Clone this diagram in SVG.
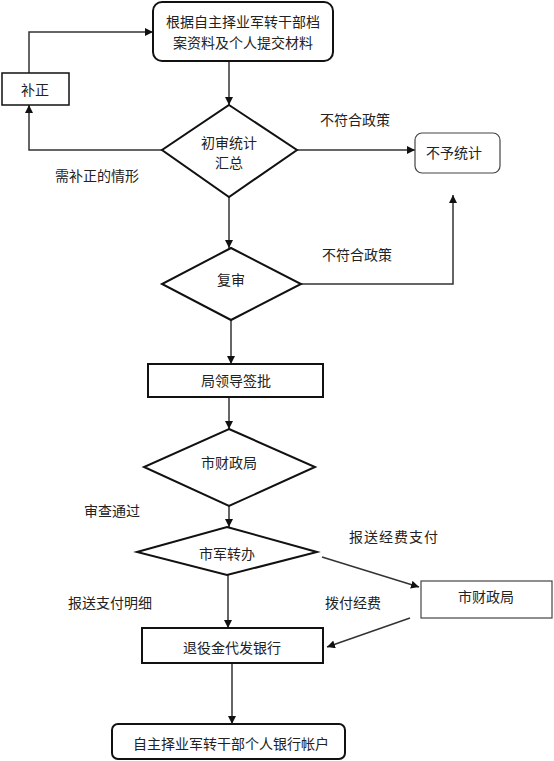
<svg xmlns="http://www.w3.org/2000/svg" width="554" height="761" viewBox="0 0 554 761">
<style>
text{font-family:"Noto Sans CJK SC","Liberation Sans",sans-serif;font-size:14px;fill:#222;dominant-baseline:central}
.c{text-anchor:middle}
.n{fill:#fff;stroke:#111;stroke-width:2}
.t{fill:#fff;stroke:#444;stroke-width:1.2}
.l{fill:none;stroke:#333;stroke-width:1.5}
</style>
<defs>
<marker id="a" viewBox="0 0 10 10" refX="10" refY="5" markerWidth="8" markerHeight="8" markerUnits="userSpaceOnUse" orient="auto"><path d="M0,0L10,5L0,10z" fill="#111"/></marker>
</defs>
<g id="connectors">
<path class="l" d="M229,61V105" marker-end="url(#a)"/>
<path class="l" d="M162,150H29V105" marker-end="url(#a)"/>
<path class="l" d="M29,73V32H153" marker-end="url(#a)"/>
<path class="l" d="M297,150H415" marker-end="url(#a)"/>
<path class="l" d="M229,197V248" marker-end="url(#a)"/>
<path class="l" d="M301,284H453V195" marker-end="url(#a)"/>
<path class="l" d="M231,320V364" marker-end="url(#a)"/>
<path class="l" d="M229,397V429" marker-end="url(#a)"/>
<path class="l" d="M229,506V527" marker-end="url(#a)"/>
<path class="l" d="M322,557L419,587" marker-end="url(#a)"/>
<path class="l" d="M410,618L327,647" marker-end="url(#a)"/>
<path class="l" d="M228,575V628" marker-end="url(#a)"/>
<path class="l" d="M232,663V724" marker-end="url(#a)"/>
</g>
<g id="labels">
<text x="55" y="175">需补正的情形</text>
<text x="320" y="119">不符合政策</text>
<text x="322" y="254">不符合政策</text>
<text x="84" y="510">审查通过</text>
<text x="349" y="536" style="letter-spacing:1px">报送经费支付</text>
<text x="68" y="602">报送支付明细</text>
<text x="325" y="602">拨付经费</text>
</g>
<g id="n1"><rect class="n" x="153" y="2" width="180" height="59" rx="9"/><text class="c" x="243" y="21">根据自主择业军转干部档</text><text class="c" x="243" y="42">案资料及个人提交材料</text></g>
<g id="n2"><rect class="n" x="2" y="73" width="67" height="32" style="stroke-width:1.5"/><text class="c" x="35" y="89">补正</text></g>
<g id="n3"><polygon class="n" points="229,105 297,150 229,197 162,150"/><text class="c" x="229" y="142">初审统计</text><text class="c" x="229" y="162">汇总</text></g>
<g id="n4"><rect class="t" x="415" y="133" width="85" height="40" rx="7"/><text class="c" x="454" y="152">不予统计</text></g>
<g id="n5"><polygon class="n" points="231,248 301,284 231,320 162,284"/><text class="c" x="231" y="279">复审</text></g>
<g id="n6"><rect class="n" x="148" y="364" width="175" height="33"/><text class="c" x="236" y="380">局领导签批</text></g>
<g id="n7"><polygon class="n" points="229,429 315,467 229,506 144,467"/><text class="c" x="229" y="462">市财政局</text></g>
<g id="n8"><polygon class="n" points="227,527 317,552 227,575 137,552"/><text class="c" x="227" y="553">市军转办</text></g>
<g id="n9"><rect class="t" x="421" y="581" width="131" height="37"/><text class="c" x="486" y="596">市财政局</text></g>
<g id="n10"><rect class="n" x="142" y="628" width="181" height="35"/><text class="c" x="232" y="647">退役金代发银行</text></g>
<g id="n11"><rect class="n" x="112" y="724" width="233" height="35" rx="6"/><text class="c" x="231" y="743">自主择业军转干部个人银行帐户</text></g>
</svg>
